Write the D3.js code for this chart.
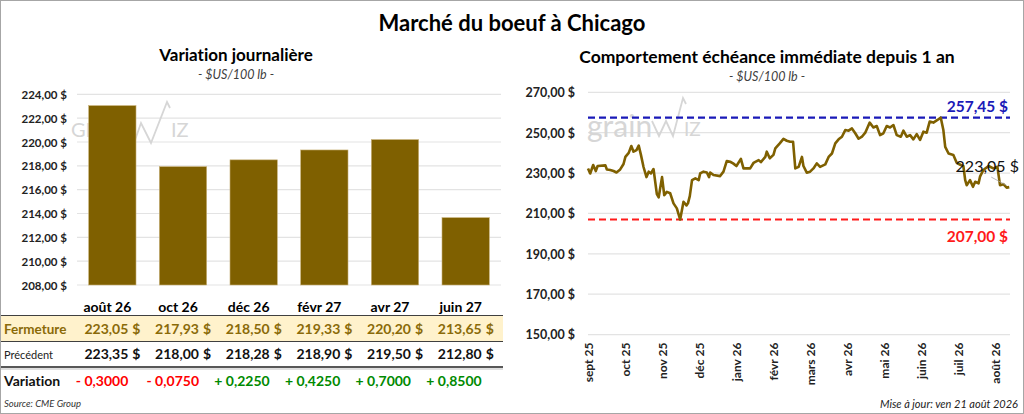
<!DOCTYPE html>
<html>
<head>
<meta charset="utf-8">
<script src="https://cdn.jsdelivr.net/npm/d3@7"></script>
<style>
  body { margin: 0; background: #fff; }
  svg { font-family: Lato, "Open Sans", sans-serif; display: block; font-variant-ligatures: none; }
</style>
</head>
<body>
<script>
// data
var contracts = ["août 26", "oct 26", "déc 26", "févr 27", "avr 27", "juin 27"];
var closeVals = [223.05, 217.93, 218.50, 219.33, 220.20, 213.65];
var prevVals = [223.35, 218.00, 218.28, 218.90, 219.50, 212.80];
var changeVals = [-0.3000, -0.0750, 0.2250, 0.4250, 0.7000, 0.8500];
var leftTicks = [208, 210, 212, 214, 216, 218, 220, 222, 224];

var monthLabels = ["sept 25", "oct 25", "nov 25", "déc 25", "janv 26", "févr 26",
                   "mars 26", "avr 26", "mai 26", "juin 26", "juil 26", "août 26"];
var rightTicks = [150, 170, 190, 210, 230, 250, 270];
// position in months since sept 25
var histPos = [0.00, 0.06, 0.14, 0.21, 0.26, 0.47, 0.51, 0.60, 0.69, 0.77, 0.87, 0.96,
  1.01, 1.10, 1.17, 1.23, 1.31, 1.37, 1.43, 1.50, 1.58, 1.64, 1.70, 1.77, 1.86, 1.91,
  2.00, 2.06, 2.13, 2.22, 2.31, 2.40, 2.49, 2.58, 2.66, 2.70, 2.75, 2.81, 2.90, 2.99,
  3.03, 3.12, 3.21, 3.27, 3.30, 3.39, 3.57, 3.66, 3.75, 3.84, 3.92, 4.01, 4.13, 4.20,
  4.38, 4.47, 4.61, 4.67, 4.79, 4.83, 4.91, 5.01, 5.06, 5.18, 5.28, 5.37, 5.46, 5.54,
  5.60, 5.69, 5.78, 5.82, 5.91, 6.00, 6.09, 6.18, 6.27, 6.41, 6.50, 6.59, 6.68, 6.77,
  6.86, 6.95, 7.04, 7.13, 7.22, 7.31, 7.40, 7.49, 7.61, 7.71, 7.80, 7.89, 7.98, 8.07,
  8.16, 8.25, 8.34, 8.45, 8.52, 8.61, 8.70, 8.79, 8.88, 8.97, 9.06, 9.15, 9.23, 9.33,
  9.44, 9.53, 9.60, 9.65, 9.74, 9.87, 9.96, 10.07, 10.14, 10.19, 10.23, 10.32, 10.40,
  10.46, 10.55, 10.59, 10.68, 10.82, 10.95, 11.06, 11.13, 11.22, 11.31, 11.38];
var histVals = [232.3, 229.8, 234.0, 231.0, 233.5, 233.8, 231.8, 231.5, 231.0, 230.3, 231.8, 234.5,
  238.0, 240.0, 243.4, 240.6, 241.4, 243.6, 239.0, 233.0, 228.0, 230.7, 229.8, 232.0, 219.6, 218.0,
  228.0, 219.0, 220.7, 220.0, 215.0, 212.5, 207.0, 215.8, 214.0, 215.0, 218.6, 226.5, 227.4, 226.5,
  229.8, 230.7, 230.3, 228.0, 230.3, 229.0, 228.5, 230.7, 236.0, 235.6, 234.8, 233.5, 237.0, 232.3,
  232.3, 235.0, 236.4, 235.4, 238.0, 240.6, 237.3, 239.0, 242.2, 244.7, 246.9, 246.0, 245.5, 245.5,
  232.3, 233.1, 238.0, 233.5, 230.2, 230.7, 232.3, 234.8, 233.1, 234.3, 238.0, 239.7, 244.7, 246.7,
  248.0, 251.3, 251.0, 252.1, 249.7, 247.0, 248.0, 250.0, 255.0, 252.6, 253.3, 248.8, 249.7, 253.3,
  252.6, 253.8, 248.8, 248.0, 251.0, 248.0, 248.8, 246.7, 249.3, 246.4, 250.5, 250.0, 255.5, 255.0,
  256.3, 257.45, 251.3, 243.0, 239.7, 239.0, 235.1, 234.0, 233.5, 226.5, 224.0, 226.5, 223.2,
  225.7, 224.9, 228.2, 231.5, 233.5, 232.3, 233.1, 224.0, 224.5, 222.8, 223.05];
var highVal = 257.45;
var lowVal = 207.00;
var lastVal = 223.05;

var width = 1024, height = 414;
var brown = "#7f6000";
var locale = d3.formatLocale({decimal: ",", thousands: " ", grouping: [3], currency: ["", " $"]});
var f2 = locale.format(".2f");
var f4 = locale.format(".4f");
var money = function(v) { return f2(v) + "\u00a0$"; };

var svg = d3.select("body").append("svg")
            .attr("width", width)
            .attr("height", height);

svg.append("rect")
   .attr("x", 0.5).attr("y", 0.5)
   .attr("width", width - 1).attr("height", height - 1)
   .attr("fill", "#fff").attr("stroke", "#a6a6a6");

svg.append("text")
   .attr("x", 512).attr("y", 31)
   .attr("text-anchor", "middle")
   .style("font-size", "22px").style("font-weight", "bold")
   .text("Marché du boeuf à Chicago");

// ---------- left: daily variation ----------
var left = { x0: 77, x1: 501, y0: 285, y1: 94.3 };

svg.append("text")
   .attr("x", 236).attr("y", 61)
   .attr("text-anchor", "middle")
   .style("font-size", "17px").style("font-weight", "bold")
   .text("Variation  journalière");
svg.append("text")
   .attr("x", 236).attr("y", 79)
   .attr("text-anchor", "middle")
   .style("font-size", "12.5px").style("font-style", "italic").attr("fill", "#404040")
   .text("- $US/100 lb -");

var xBand = d3.scaleBand()
              .domain(contracts)
              .range([left.x0, left.x1])
              .paddingInner(0.33)
              .paddingOuter(0.165);
var yLeft = d3.scaleLinear()
              .domain([208, 224])
              .range([left.y0, left.y1]);

svg.append("g")
   .selectAll("line")
   .data(leftTicks)
   .enter()
   .append("line")
   .attr("x1", left.x0).attr("x2", left.x1)
   .attr("y1", function(d) { return yLeft(d); })
   .attr("y2", function(d) { return yLeft(d); })
   .attr("stroke", "#e3e3e3").attr("stroke-width", 1.2);

var yAxisL = d3.axisLeft(yLeft).tickValues(leftTicks).tickSize(0).tickPadding(0)
               .tickFormat(function(d) { return f2(d) + " $"; });
var gL = svg.append("g")
   .attr("transform", "translate(67,0)")
   .call(yAxisL);
gL.select(".domain").remove();
gL.selectAll("text")
  .style("font-family", "Lato, sans-serif")
  .style("font-size", "11.5px").style("font-weight", "bold").attr("fill", "#222")
  .attr("dy", "0.35em");

// watermark
var wmCol = "#d6d6d6";
svg.append("text")
   .attr("x", 71).attr("y", 137)
   .attr("fill", wmCol)
   .style("font-size", "20px")
   .text("GRAIN");
svg.append("path")
   .attr("d", "M127,123 L134,143 L141,123 L151,143 L167,102 L170,108")
   .attr("fill", "none").attr("stroke", wmCol).attr("stroke-width", 1.8);
svg.append("text")
   .attr("x", 171).attr("y", 137)
   .attr("fill", wmCol)
   .style("font-size", "20px")
   .text("IZ");

svg.append("g")
   .selectAll("rect")
   .data(closeVals)
   .enter()
   .append("rect")
   .attr("x", function(d, i) { return xBand(contracts[i]); })
   .attr("y", function(d) { return yLeft(d); })
   .attr("width", xBand.bandwidth())
   .attr("height", function(d) { return left.y0 - yLeft(d); })
   .attr("fill", brown)
   .attr("stroke", "#c9b27a").attr("stroke-width", 0.6);

// table
var colC = function(i) { return xBand(contracts[i]) + xBand.bandwidth() / 2; };
var tableW = 503;

svg.append("g")
   .selectAll("text")
   .data(contracts)
   .enter()
   .append("text")
   .attr("x", function(d, i) { return colC(i) - 5; })
   .attr("y", 312)
   .attr("text-anchor", "middle")
   .style("font-size", "14px").style("font-weight", "bold")
   .text(function(d) { return d; });

svg.append("rect")
   .attr("x", 1).attr("y", 316)
   .attr("width", tableW - 1).attr("height", 25)
   .attr("fill", "#fff2cc");
svg.append("line").attr("x1", 1).attr("x2", tableW).attr("y1", 315.5).attr("y2", 315.5)
   .attr("stroke", "#404040").attr("stroke-width", 1);
svg.append("line").attr("x1", 1).attr("x2", tableW).attr("y1", 341.5).attr("y2", 341.5)
   .attr("stroke", "#404040").attr("stroke-width", 1);
svg.append("line").attr("x1", 1).attr("x2", tableW).attr("y1", 367).attr("y2", 367)
   .attr("stroke", "#202020").attr("stroke-width", 1.6);
svg.append("line").attr("x1", 1).attr("x2", tableW).attr("y1", 369).attr("y2", 369)
   .attr("stroke", "#bfbfbf").attr("stroke-width", 1);

var rows = [
  { label: "Fermeture", vals: closeVals, y: 334, lcol: "#8a6a08", vcol: "#8a6a08", lsize: "13.5px", lweight: "bold", dollar: true },
  { label: "Précédent", vals: prevVals, y: 359, lcol: "#222", vcol: "#111", lsize: "11px", lweight: "normal", dollar: true },
  { label: "Variation", vals: changeVals, y: 386, lcol: "#111", vcol: null, lsize: "14px", lweight: "bold", dollar: false }
];

rows.forEach(function(r) {
  svg.append("text")
     .attr("x", 4).attr("y", r.y)
     .style("font-size", r.lsize).style("font-weight", r.lweight)
     .attr("fill", r.lcol)
     .text(r.label);
  var g = svg.append("g");
  g.selectAll("text.v")
   .data(r.vals)
   .enter()
   .append("text")
   .attr("class", "v")
   .attr("x", function(d, i) { return colC(i) + 16; })
   .attr("y", r.y)
   .attr("text-anchor", "end")
   .style("font-size", "14px").style("font-weight", "bold")
   .attr("fill", function(d) {
      if (r.vcol) return r.vcol;
      return d < 0 ? "#ff0000" : "#008a00";
   })
   .text(function(d) {
      if (r.dollar) return f2(d);
      return (d < 0 ? "- " : "+ ") + f4(Math.abs(d));
   });
  if (r.dollar) {
    g.selectAll("text.d")
     .data(r.vals)
     .enter()
     .append("text")
     .attr("class", "d")
     .attr("x", function(d, i) { return colC(i) + 20; })
     .attr("y", r.y)
     .style("font-size", "14px").style("font-weight", "bold")
     .attr("fill", r.vcol)
     .text("$");
  }
});

svg.append("text")
   .attr("x", 4).attr("y", 407)
   .style("font-size", "9.5px").style("font-style", "italic").attr("fill", "#333")
   .text("Source: CME Group");

// ---------- right: one year of front month ----------
var right = { x0: 588, x1: 1010, y0: 334.6, y1: 92.3 };

svg.append("text")
   .attr("x", 767).attr("y", 63)
   .attr("text-anchor", "middle")
   .style("font-size", "17.5px").style("font-weight", "bold")
   .text("Comportement  échéance  immédiate  depuis 1 an");
svg.append("text")
   .attr("x", 767).attr("y", 81)
   .attr("text-anchor", "middle")
   .style("font-size", "12.5px").style("font-style", "italic").attr("fill", "#404040")
   .text("- $US/100 lb -");

var xR = d3.scaleLinear().domain([0, 11.4]).range([right.x0, right.x1]);
var yR = d3.scaleLinear().domain([150, 270]).range([right.y0, right.y1]);

svg.append("g")
   .selectAll("line")
   .data(rightTicks)
   .enter()
   .append("line")
   .attr("x1", right.x0).attr("x2", right.x1)
   .attr("y1", function(d) { return yR(d); })
   .attr("y2", function(d) { return yR(d); })
   .attr("stroke", "#e3e3e3").attr("stroke-width", 1.2);

var yAxisR = d3.axisLeft(yR).tickValues(rightTicks).tickSize(0).tickPadding(0)
               .tickFormat(function(d) { return f2(d) + " $"; });
var gR = svg.append("g")
   .attr("transform", "translate(575,0)")
   .call(yAxisR);
gR.select(".domain").remove();
gR.selectAll("text")
  .style("font-family", "Lato, sans-serif")
  .style("font-size", "12.5px").style("font-weight", "bold").attr("fill", "#222")
  .attr("dy", "0.35em");

var xAxisR = d3.axisBottom(xR).tickValues(d3.range(monthLabels.length)).tickSize(0).tickPadding(0)
               .tickFormat(function(d) { return monthLabels[d]; });
var gX = svg.append("g")
   .attr("transform", "translate(0," + (right.y0 + 8) + ")")
   .call(xAxisR);
gX.select(".domain").remove();
gX.selectAll("text")
  .style("font-family", "Lato, sans-serif")
  .style("font-size", "12px").style("font-weight", "bold").attr("fill", "#222")
  .attr("text-anchor", "end")
  .attr("transform", "rotate(-90)")
  .attr("x", 0).attr("y", 0).attr("dx", 0).attr("dy", "0.35em");

// watermark
svg.append("text")
   .attr("x", 587).attr("y", 137)
   .attr("fill", wmCol)
   .style("font-size", "30px")
   .text("grain");
svg.append("path")
   .attr("d", "M652,121 L659,136 L666,121 L673,136 L683,98 L686,104")
   .attr("fill", "none").attr("stroke", wmCol).attr("stroke-width", 1.8);
svg.append("text")
   .attr("x", 684).attr("y", 136)
   .attr("fill", wmCol)
   .style("font-size", "19px")
   .text("IZ");

// high / low
svg.append("line")
   .attr("x1", right.x0).attr("x2", right.x1)
   .attr("y1", yR(highVal)).attr("y2", yR(highVal))
   .attr("stroke", "#1a1ab8").attr("stroke-width", 2.2)
   .attr("stroke-dasharray", "7,4");
svg.append("line")
   .attr("x1", right.x0).attr("x2", right.x1)
   .attr("y1", yR(lowVal)).attr("y2", yR(lowVal))
   .attr("stroke", "#ff1a1a").attr("stroke-width", 2.2)
   .attr("stroke-dasharray", "7,4");

var line = d3.line()
             .x(function(d) { return xR(d[0]); })
             .y(function(d) { return yR(d[1]); });
svg.append("path")
   .datum(d3.zip(histPos, histVals))
   .attr("d", line)
   .attr("fill", "none")
   .attr("stroke", brown)
   .attr("stroke-width", 2.6)
   .attr("stroke-linejoin", "round");

svg.append("text")
   .attr("x", 1008).attr("y", yR(highVal) - 6)
   .attr("text-anchor", "end")
   .attr("fill", "#1a1ab8")
   .style("font-size", "15.5px").style("font-weight", "bold")
   .text(money(highVal));
svg.append("text")
   .attr("x", 1008).attr("y", yR(lowVal) + 22)
   .attr("text-anchor", "end")
   .attr("fill", "#ff1a1a")
   .style("font-size", "15.5px").style("font-weight", "bold")
   .text(money(lowVal));

var lastX = xR(histPos[histPos.length - 1]);
var lastY = yR(lastVal);
svg.append("line")
   .attr("x1", lastX - 18).attr("y1", lastY - 10)
   .attr("x2", lastX - 3).attr("y2", lastY - 2)
   .attr("stroke", "#a6a6a6").attr("stroke-width", 0.8);
svg.append("text")
   .attr("x", 1019).attr("y", lastY - 15)
   .attr("text-anchor", "end")
   .attr("fill", "#111")
   .style("font-size", "16px")
   .text(money(lastVal));

svg.append("text")
   .attr("x", 1018).attr("y", 408)
   .attr("text-anchor", "end")
   .style("font-size", "11px").style("font-style", "italic").attr("fill", "#222")
   .text("Mise à jour: ven 21 août 2026");
</script>
</body>
</html>
